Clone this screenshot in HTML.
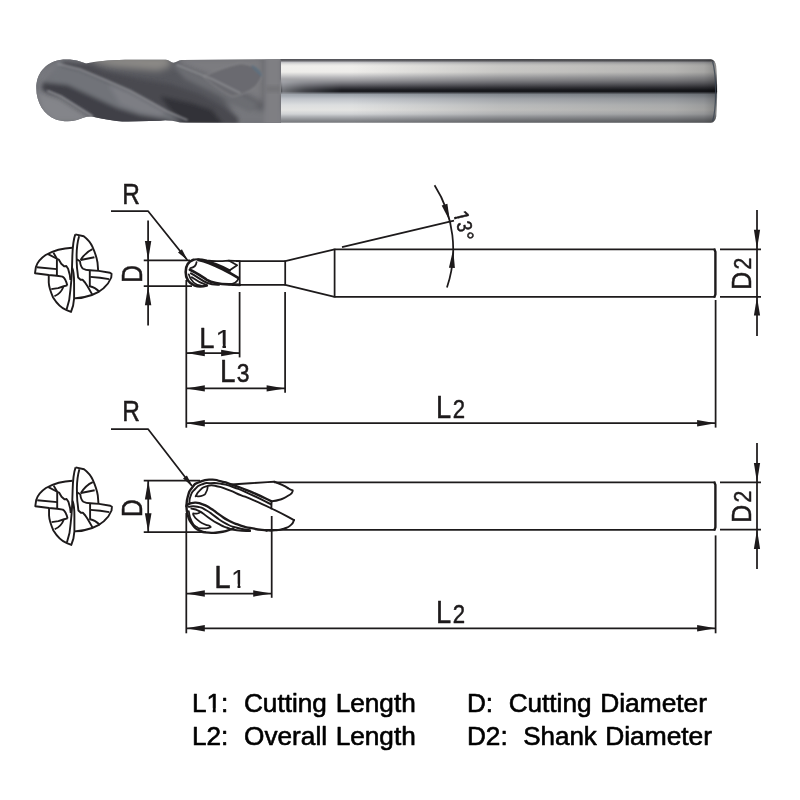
<!DOCTYPE html>
<html lang="en">
<head>
<meta charset="utf-8">
<title>Ball Nose End Mill Dimensions</title>
<style>
html,body{margin:0;padding:0;background:#ffffff;}
body{width:800px;height:800px;overflow:hidden;position:relative;font-family:"Liberation Sans",sans-serif;}
svg{position:absolute;left:0;top:0;display:block;}
</style>
</head>
<body>
<svg width="800" height="800" viewBox="0 0 800 800">
<defs>
<linearGradient id="shankV" gradientUnits="userSpaceOnUse" x1="0" y1="59" x2="0" y2="122.8">
<stop offset="0.0000" stop-color="#5a5a5f"/>
<stop offset="0.0094" stop-color="#55555a"/>
<stop offset="0.0298" stop-color="#6a6a6e"/>
<stop offset="0.0517" stop-color="#c0c0c4"/>
<stop offset="0.0784" stop-color="#e0e0de"/>
<stop offset="0.1097" stop-color="#f0efec"/>
<stop offset="0.2038" stop-color="#eeedea"/>
<stop offset="0.2508" stop-color="#d0d0d0"/>
<stop offset="0.2900" stop-color="#b5b5b8"/>
<stop offset="0.3370" stop-color="#98989c"/>
<stop offset="0.3762" stop-color="#7a7a80"/>
<stop offset="0.4154" stop-color="#58585e"/>
<stop offset="0.4483" stop-color="#3a3a40"/>
<stop offset="0.4859" stop-color="#1c1d22"/>
<stop offset="0.5094" stop-color="#1c1d22"/>
<stop offset="0.5298" stop-color="#50535a"/>
<stop offset="0.5549" stop-color="#9aa0a8"/>
<stop offset="0.6254" stop-color="#c0c4ca"/>
<stop offset="0.7210" stop-color="#dcdedf"/>
<stop offset="0.7994" stop-color="#e4e4e2"/>
<stop offset="0.8621" stop-color="#d0d2d4"/>
<stop offset="0.9013" stop-color="#b0b2b6"/>
<stop offset="0.9404" stop-color="#94969a"/>
<stop offset="0.9718" stop-color="#808286"/>
<stop offset="1.0000" stop-color="#77797d"/>
</linearGradient>
<linearGradient id="shankH" gradientUnits="userSpaceOnUse" x1="281" y1="0" x2="717" y2="0">
<stop offset="0" stop-color="#000" stop-opacity="0"/>
<stop offset="0.16" stop-color="#000" stop-opacity="0"/>
<stop offset="0.5" stop-color="#000" stop-opacity="0.16"/>
<stop offset="0.9" stop-color="#000" stop-opacity="0.24"/>
<stop offset="0.97" stop-color="#000" stop-opacity="0.3"/>
<stop offset="1" stop-color="#000" stop-opacity="0.42"/>
</linearGradient>
<linearGradient id="headV" x1="0" y1="0" x2="0" y2="1">
<stop offset="0" stop-color="#8b8c90"/>
<stop offset="0.15" stop-color="#77787d"/>
<stop offset="0.5" stop-color="#5d5e64"/>
<stop offset="0.85" stop-color="#6d6e73"/>
<stop offset="1" stop-color="#85868a"/>
</linearGradient>
<linearGradient id="fadeL" x1="0" y1="0" x2="1" y2="0">
<stop offset="0" stop-color="#b4b7bc" stop-opacity="0.6"/>
<stop offset="0.4" stop-color="#a4a7ac" stop-opacity="0.3"/>
<stop offset="1" stop-color="#a0a3a8" stop-opacity="0"/>
</linearGradient>
<filter id="b1" x="-20%" y="-20%" width="140%" height="140%"><feGaussianBlur stdDeviation="2.2"/></filter>
<filter id="b2" x="-20%" y="-20%" width="140%" height="140%"><feGaussianBlur stdDeviation="3.5"/></filter>
<filter id="b05" x="-5%" y="-5%" width="110%" height="110%"><feGaussianBlur stdDeviation="0.9"/></filter>
<clipPath id="headClip"><path d="M36.3,88 C36.3,74 45,62.5 60,60 C66,59 74,59.5 80,61.5 L86,63.5 C96,61.5 108,60.3 125,59.8 L166,59.8 C169,60 171,62.6 173.5,62.8 C176,62.6 178,60.4 182,60 L281,59.2 L281,122.8 L180,122.4 C172,120.5 165,119.5 160,120.8 L128,121.6 C112,121.5 100,118 92,116.5 C86,116 82,118.5 76,120.3 C70,121.8 62,121.5 56,119.5 C44,115 36.3,103 36.3,88 Z"/></clipPath>
</defs>
<g id="photo">
<path d="M280,59.0 L711,59.2 C714,59.8 715.6,62.5 716.2,66 C717.4,80 717.4,102 716.2,116.5 C715.6,120 714,122.4 711,122.8 L280,122.8 Z" fill="url(#shankV)"/>
<path d="M280,59.0 L711,59.2 C714,59.8 715.6,62.5 716.2,66 C717.4,80 717.4,102 716.2,116.5 C715.6,120 714,122.4 711,122.8 L280,122.8 Z" fill="url(#shankH)"/>
<path d="M712.6,61.5 C716.6,75 716.6,108 712.6,121.2" fill="none" stroke="#3a4450" stroke-width="1.2" opacity="0.8"/>
<g clip-path="url(#headClip)">
<rect x="30" y="55" width="255" height="72" fill="#56575d"/>
<g filter="url(#b2)">
<path d="M34,70 L60,56 L88,60 L78,74 L50,80 L40,100 L34,100 Z" fill="#77787e"/>
<path d="M36,92 L45,92 L61,97 L80,109 L94,117 L80,124 L52,124 L38,110 Z" fill="#84858a"/>
<path d="M90,56 L170,56 L170,62 L172,66 L158,71 L135,69 L112,67 L96,63 Z" fill="#8b8986"/>
<path d="M178,56 L264,56 L264,104 L244,94 L212,78 L178,65 Z" fill="#7c7c80"/>
<path d="M225,96 L262,110 L283,110 L283,126 L236,126 Z" fill="#76777c"/>
</g>
<g filter="url(#b1)">
<path d="M58,64 L80,69.5 L105,80 L130,91 L150,102 L166,111 L187,120 L165,119.5 L140,115 L117,108 L92,96.5 L67,85 L46,82 Z" fill="#717379"/>
<path d="M108,84 L130,92 L150,102.5 L166,111.5 L160,116 L140,112 L120,104 Z" fill="#7d7e84"/>
<path d="M43,82.5 L67.5,85 L92.5,96.5 L117.5,108 L140,115 L168,119.5 L170,125 L100,125 L92,116 L80,108.5 L61,96.5 L42,90 Z" fill="#3f4046"/>
<path d="M64,61 L86,64 L104,71 L140,79 L170,84 L200,94 L222,106 L238,118 L238,125 L188,125 L166,111.5 L150,102.5 L130,91.5 L105,80.5 L80,70 L60,65 Z" fill="#494a50"/>
<path d="M160,96 L192,103 L212,110 L224,125 L186,125 L170,110 Z" fill="#323338"/>
<path d="M171,63.5 L177,65 L212,79 L240,93 L258,104 L250,112 L236,105 L210,91 L185,79 Z" fill="#6c6d72"/>
</g>
<g filter="url(#b05)">
<path d="M203,76.5 C215,71 228,66 240,63.5 C250,64 258,68 262.5,75 C260,82 256,87 250,90.5 C244,94 238,96 232,96.5 C222,92 212,84 203,76.5 Z" fill="#6b6b6f" stroke="#88888c" stroke-width="0.9"/>
<path d="M252,65 C257.5,67.5 261.5,71.5 263,77 C259,75.5 255,71.5 251,66 Z" fill="#5f6f7e"/>
</g>
<g fill="none" filter="url(#b05)" stroke-linecap="round">
<path d="M58,64 L80,69.5 L105,80 L130,91 L150,102 L166,111 L187,120" stroke="#8f9095" stroke-width="1.6"/>
<path d="M177,65 L212,79 L240,93" stroke="#8e8f93" stroke-width="1.4"/>
<path d="M48,91 L61,96.5 L80,108.5 L92,116" stroke="#94959a" stroke-width="1.8"/>
</g>
<rect x="264" y="55" width="18" height="72" fill="#7f7f83" filter="url(#b1)"/>
<rect x="266" y="86" width="16" height="6" fill="#727276" filter="url(#b1)"/>
</g>
<rect x="281" y="80" width="60" height="14.5" fill="url(#fadeL)" filter="url(#b05)"/>
</g>
<g fill="none" stroke="#1d1a1b" stroke-width="1.75" stroke-linecap="butt" stroke-linejoin="round">
<line x1="143.75" y1="260.4" x2="190" y2="260.4" stroke-width="1.75" />
<line x1="143.75" y1="286.2" x2="192" y2="286.2" stroke-width="1.75" />
<line x1="148.1" y1="220.6" x2="148.1" y2="325.6" stroke-width="1.75" />
<polygon points="148.10,260.40 144.90,240.90 151.30,240.90" fill="#1d1a1b" stroke="none"/>
<polygon points="148.10,286.20 151.30,305.20 144.90,305.20" fill="#1d1a1b" stroke="none"/>
<line x1="236" y1="261.1" x2="285.2" y2="261.1" stroke-width="1.75" />
<line x1="232" y1="284.9" x2="285.2" y2="284.9" stroke-width="1.75" />
<line x1="239.7" y1="261.1" x2="239.7" y2="284.9" stroke-width="1.75" />
<line x1="285.2" y1="260.40000000000003" x2="285.2" y2="285.59999999999997" stroke-width="1.75" />
<line x1="285.2" y1="261.1" x2="334.6" y2="249.3" stroke-width="1.75" />
<line x1="285.2" y1="284.9" x2="334.6" y2="296.9" stroke-width="1.75" />
<line x1="334.6" y1="248.60000000000002" x2="334.6" y2="297.59999999999997" stroke-width="1.75" />
<line x1="334.6" y1="249.3" x2="715" y2="249.3" stroke-width="1.75" />
<line x1="334.6" y1="296.9" x2="715" y2="296.9" stroke-width="1.75" />
<path d="M714.2,248.60000000000002 L715.4,251.8 L715.4,294.4 L714.2,297.59999999999997" stroke-width="2.4"/>
<line x1="720" y1="249.3" x2="761" y2="249.3" stroke-width="1.75" />
<line x1="720" y1="296.9" x2="761" y2="296.9" stroke-width="1.75" />
<line x1="757" y1="210" x2="757" y2="336" stroke-width="1.75" />
<polygon points="757.00,249.30 753.90,229.80 760.10,229.80" fill="#1d1a1b" stroke="none"/>
<polygon points="757.00,296.90 760.10,315.40 753.90,315.40" fill="#1d1a1b" stroke="none"/>
<line x1="342" y1="247.1" x2="454" y2="220.6" stroke-width="1.75" />
<path d="M434.57,185.26 A119.7,119.7 0 0 1 446.95,287.58"/>
<polygon points="449.84,221.25 441.69,205.48 447.41,203.67" fill="#1d1a1b" stroke="none"/>
<polygon points="453.20,249.40 454.90,268.06 448.92,267.65" fill="#1d1a1b" stroke="none"/>
<line x1="186.3" y1="280" x2="186.3" y2="427.7" stroke-width="1.75" />
<line x1="239.6" y1="292" x2="239.6" y2="357.4" stroke-width="1.75" />
<line x1="285.1" y1="292" x2="285.1" y2="392.8" stroke-width="1.75" />
<line x1="715.6" y1="300" x2="715.6" y2="427.6" stroke-width="1.75" />
<line x1="186.3" y1="353" x2="239.6" y2="353" stroke-width="1.75" />
<polygon points="186.30,353.00 204.80,349.80 204.80,356.20" fill="#1d1a1b" stroke="none"/>
<polygon points="239.60,353.00 221.10,356.20 221.10,349.80" fill="#1d1a1b" stroke="none"/>
<line x1="186.3" y1="388.4" x2="285.1" y2="388.4" stroke-width="1.75" />
<polygon points="186.30,388.40 204.80,385.20 204.80,391.60" fill="#1d1a1b" stroke="none"/>
<polygon points="285.10,388.40 266.60,391.60 266.60,385.20" fill="#1d1a1b" stroke="none"/>
<line x1="186.3" y1="423.2" x2="715.6" y2="423.2" stroke-width="1.75" />
<polygon points="186.30,423.20 204.80,420.00 204.80,426.40" fill="#1d1a1b" stroke="none"/>
<polygon points="715.60,423.20 697.10,426.40 697.10,420.00" fill="#1d1a1b" stroke="none"/>
<path d="M111,211 L148,211 L187.3,260"/>
<polygon points="187.80,260.60 178.03,252.41 181.93,249.28" fill="#1d1a1b" stroke="none"/>
<line x1="143.75" y1="480.5" x2="200" y2="480.5" stroke-width="1.75" />
<line x1="143.75" y1="532.2" x2="206" y2="532.2" stroke-width="1.75" />
<line x1="148.2" y1="481" x2="148.2" y2="532" stroke-width="1.75" />
<polygon points="148.20,480.60 151.50,499.60 144.90,499.60" fill="#1d1a1b" stroke="none"/>
<polygon points="148.20,532.20 144.90,513.20 151.50,513.20" fill="#1d1a1b" stroke="none"/>
<line x1="274" y1="482.4" x2="715" y2="482.4" stroke-width="1.75" />
<line x1="264" y1="529.8" x2="715" y2="529.8" stroke-width="1.75" />
<path d="M714.2,481.7 L715.4,484.9 L715.4,527.3 L714.2,530.5" stroke-width="2.4"/>
<line x1="720" y1="482.4" x2="761" y2="482.4" stroke-width="1.75" />
<line x1="720" y1="529.5" x2="761" y2="529.5" stroke-width="1.75" />
<line x1="757" y1="443" x2="757" y2="569" stroke-width="1.75" />
<polygon points="757.00,482.40 753.90,462.90 760.10,462.90" fill="#1d1a1b" stroke="none"/>
<polygon points="757.00,529.50 760.10,549.00 753.90,549.00" fill="#1d1a1b" stroke="none"/>
<line x1="186.3" y1="513" x2="186.3" y2="633.3" stroke-width="1.75" />
<line x1="271.7" y1="516" x2="271.7" y2="597.8" stroke-width="1.75" />
<line x1="715.6" y1="535.4" x2="715.6" y2="633.3" stroke-width="1.75" />
<line x1="186.3" y1="593.5" x2="271.7" y2="593.5" stroke-width="1.75" />
<polygon points="186.30,593.50 204.80,590.30 204.80,596.70" fill="#1d1a1b" stroke="none"/>
<polygon points="271.70,593.50 253.20,596.70 253.20,590.30" fill="#1d1a1b" stroke="none"/>
<line x1="186.3" y1="628.3" x2="715.6" y2="628.3" stroke-width="1.75" />
<polygon points="186.30,628.30 204.80,625.10 204.80,631.50" fill="#1d1a1b" stroke="none"/>
<polygon points="715.60,628.30 697.10,631.50 697.10,625.10" fill="#1d1a1b" stroke="none"/>
<path d="M111,429 L148,429 L192,486"/>
<polygon points="192.60,486.80 182.98,478.43 186.94,475.38" fill="#1d1a1b" stroke="none"/>
<g transform="translate(180,250) scale(0.08125)" stroke-width="24" stroke-linecap="round">
<path d="M165,120 C105,140 70,200 70,270 C70,340 108,408 180,438 C230,455 280,450 330,437" stroke-width="32"/>
<path d="M150,126 C200,105 260,112 330,128 C400,142 500,140 600,130 L735,136" stroke-width="22"/>
<path d="M108,300 C130,378 190,428 260,440" stroke-width="22"/>
<path d="M225,122 C330,145 430,190 520,235 C600,275 670,315 722,347" stroke-width="34"/>
<path d="M320,138 C420,158 520,203 612,253" stroke-width="30"/>
<path d="M600,130 L703,187 L612,250" stroke-width="22"/>
<path d="M722,347 C705,395 655,420 600,424" stroke-width="22"/>
<path d="M122,243 C200,275 270,330 330,368 C400,408 480,420 600,424 L735,430" stroke-width="34"/>
<path d="M135,288 C200,320 260,370 330,403 C380,424 430,430 480,428" stroke-width="26"/>
<path d="M145,335 C200,375 260,410 330,432" stroke-width="22"/>
<path d="M128,222 C170,218 198,195 204,150" stroke-width="22"/>
</g>
<g transform="translate(180,470) scale(0.0875)" stroke-width="22" stroke-linecap="round">
<path d="M74,415 C79.3,376.7 68.0,371.7 90,300 C112.0,228.3 96.7,253.3 140,200 C183.3,146.7 150.0,170.0 220,140 C290.0,110.0 266.7,113.3 350,110 C433.3,106.7 386.7,110.0 470,130 C553.3,150.0 490.0,131.7 600,170 C710.0,208.3 651.3,182.3 800,245 C948.7,307.7 964.0,320.3 1046,358" stroke-width="27"/>
<path d="M108,385 C112.0,356.7 99.3,355.0 120,300 C140.7,245.0 126.7,265.0 170,220 C213.3,175.0 190.0,188.3 250,165 C310.0,141.7 273.3,151.7 350,150 C426.7,148.3 390.0,143.3 480,160 C570.0,176.7 513.3,161.7 620,200 C726.7,238.3 659.7,211.0 800,275 C940.3,339.0 960.7,353.0 1041,392"/>
<path d="M180,300 C196.7,276.7 186.7,268.3 230,230 C273.3,191.7 246.7,200.0 310,185 C373.3,170.0 336.7,170.0 420,185 C503.3,200.0 466.7,195.0 560,230 C653.3,265.0 620.0,257.3 700,290 C780.0,322.7 684.7,278.0 800,328 C915.3,378.0 878.3,358.7 1046,440 C1213.7,521.3 1217.3,528.0 1303,572"/>
<path d="M180,300 C206.7,297.3 220.0,308.7 260,292 C300.0,275.3 281.3,282.0 300,250 C318.7,218.0 310.7,214.0 316,196" stroke-width="20"/>
<path d="M575,166 C650.0,161.3 633.0,162.7 800,152 C967.0,141.3 984.0,140.0 1076,134"/>
<path d="M1076,134 C1106.0,146.0 1109.3,143.0 1166,170 C1222.7,197.0 1206.0,189.3 1246,215 C1286.0,240.7 1292.7,218.7 1286,247 C1279.3,275.3 1276.0,269.0 1226,300 C1176.0,331.0 1196.0,320.7 1136,340 C1076.0,359.3 1076.0,352.0 1046,358"/>
<path d="M1046,358 L1044,440"/>
<path d="M1303,572 C1290.7,591.3 1305.0,597.3 1266,630 C1227.0,662.7 1246.0,650.0 1186,670 C1126.0,690.0 1151.3,682.7 1086,690 C1020.7,697.3 1022.0,691.3 990,692"/>
<path d="M76,402 C100.7,393.0 92.0,379.0 150,375 C208.0,371.0 183.3,368.3 250,390 C316.7,411.7 283.3,400.0 350,440 C416.7,480.0 380.0,463.3 450,510 C520.0,556.7 483.3,540.0 560,580 C636.7,620.0 600.0,602.7 680,630 C760.0,657.3 696.7,641.3 800,662 C903.3,682.7 926.7,682.0 990,692" stroke-width="27"/>
<path d="M100,420 C133.3,420.0 133.3,406.7 200,420 C266.7,433.3 233.3,423.3 300,460 C366.7,496.7 326.7,480.0 400,530 C473.3,580.0 436.7,566.7 520,610 C603.3,653.3 556.7,634.0 650,660 C743.3,686.0 750.0,678.7 800,688"/>
<path d="M130,442 C160.0,451.3 156.7,437.3 220,470 C283.3,502.7 250.0,493.3 320,540 C390.0,586.7 356.7,570.0 430,610 C503.3,650.0 466.7,634.0 540,660 C613.3,686.0 563.3,675.3 650,688 C736.7,700.7 750.0,694.7 800,698"/>
<path d="M150,497 C166.7,497.0 171.3,503.0 200,497 C228.7,491.0 224.0,485.0 236,479" stroke-width="20"/>
<path d="M74,415 C79.3,450.0 68.0,451.7 90,520 C112.0,588.3 96.7,563.3 140,620 C183.3,676.7 156.7,658.0 220,690 C283.3,722.0 253.3,709.0 330,716 C406.7,723.0 380.0,719.0 450,711 C520.0,703.0 486.7,706.3 540,692 C593.3,677.7 586.7,676.0 610,668" stroke-width="27"/>
<path d="M100,470 C110.0,506.7 100.0,520.0 130,580 C160.0,640.0 150.0,621.0 190,650 C230.0,679.0 203.3,663.7 250,667 C296.7,670.3 300.0,669.0 330,660 C360.0,651.0 356.7,653.3 340,640 C323.3,626.7 326.7,643.3 280,620 C233.3,596.7 243.3,606.7 200,570 C156.7,533.3 166.7,530.0 150,510" stroke-width="20"/>
</g>
<g stroke-width="1.9">
<path d="M72.2,247.8 C62,248.2 53,251 45.6,255 C40.5,258.5 37,263 35.9,267 L35,273.2 L48.75,275 L56.9,275.8 L62.5,276.6 C65,278 66.2,281 67.3,285.4"/>
<path d="M36.9,267.3 L56.9,269.1"/>
<path d="M56.9,259.2 L56.9,275.8"/>
<path d="M48.1,254.1 L56.9,258.75"/>
<path d="M53.4,252.6 L56.9,258.75 L58.75,259.6 L61.25,263.75 L64.4,266.4 L66.25,266 L68.1,268.75 L69.8,275 L70.4,280"/>
<path d="M75.3,234.4 C73.6,239 72.6,246 72.3,258 L72,268 C71.8,276 71.2,283 70.4,290 L69.2,300 L66.6,309.5"/>
<path d="M79.1,236.2 C77.4,242 76.7,248 76.6,255 L76.7,262 L77,268 L77.5,272 L78.1,277.5 L80.6,279.7 L82.5,279.7 L85,282.5 L87.5,286.25 L92.3,294.6"/>
<path d="M72.2,268 C73.6,271 74.1,276 74.1,283 L74.1,298.4 L73.1,305.6 L71,311.9 L66.6,310.2 C61,308 56.5,303 53.1,297.5 C50.5,291.5 48.9,286 48.75,282.5 L48.75,275"/>
<path d="M75.3,234.4 L83.75,236.25 C88,239.5 90.8,243 92.5,246.9 C95,252.5 96.8,258 97.5,262.5 L98.2,270.8"/>
<path d="M80.6,260 C84,254.5 88,251 92.5,249.1"/>
<path d="M80.6,260 L94.4,257.2"/>
<path d="M76.8,259.4 L80,261.25 C80.4,265.5 81.3,267.5 83.1,268.75 C85.5,270 87.5,270.2 90,270.3 L98.75,270.9 L110,272.8 L111.6,273.75 L111.25,277.5 C109,283 106.5,285.8 103.75,288.1 C100,291.5 96,293.5 91.9,295 C85,297.5 80,298.3 74.1,298.4"/>
<path d="M90.3,276.9 L100,277.8 L109,279.1"/>
<path d="M89.8,270.3 L89.8,286.2 C93.5,286.8 96.8,289 99.6,292"/>
<path d="M51.25,289.1 L58.1,288.1 L63.75,286.25 L67.3,285.4"/>
<path d="M54.4,296.25 C58.5,294.5 61.5,292 63.3,287"/>
</g>
<g stroke-width="1.9" transform="translate(0.3,233)">
<path d="M72.2,247.8 C62,248.2 53,251 45.6,255 C40.5,258.5 37,263 35.9,267 L35,273.2 L48.75,275 L56.9,275.8 L62.5,276.6 C65,278 66.2,281 67.3,285.4"/>
<path d="M36.9,267.3 L56.9,269.1"/>
<path d="M56.9,259.2 L56.9,275.8"/>
<path d="M48.1,254.1 L56.9,258.75"/>
<path d="M53.4,252.6 L56.9,258.75 L58.75,259.6 L61.25,263.75 L64.4,266.4 L66.25,266 L68.1,268.75 L69.8,275 L70.4,280"/>
<path d="M75.3,234.4 C73.6,239 72.6,246 72.3,258 L72,268 C71.8,276 71.2,283 70.4,290 L69.2,300 L66.6,309.5"/>
<path d="M79.1,236.2 C77.4,242 76.7,248 76.6,255 L76.7,262 L77,268 L77.5,272 L78.1,277.5 L80.6,279.7 L82.5,279.7 L85,282.5 L87.5,286.25 L92.3,294.6"/>
<path d="M72.2,268 C73.6,271 74.1,276 74.1,283 L74.1,298.4 L73.1,305.6 L71,311.9 L66.6,310.2 C61,308 56.5,303 53.1,297.5 C50.5,291.5 48.9,286 48.75,282.5 L48.75,275"/>
<path d="M75.3,234.4 L83.75,236.25 C88,239.5 90.8,243 92.5,246.9 C95,252.5 96.8,258 97.5,262.5 L98.2,270.8"/>
<path d="M80.6,260 C84,254.5 88,251 92.5,249.1"/>
<path d="M80.6,260 L94.4,257.2"/>
<path d="M76.8,259.4 L80,261.25 C80.4,265.5 81.3,267.5 83.1,268.75 C85.5,270 87.5,270.2 90,270.3 L98.75,270.9 L110,272.8 L111.6,273.75 L111.25,277.5 C109,283 106.5,285.8 103.75,288.1 C100,291.5 96,293.5 91.9,295 C85,297.5 80,298.3 74.1,298.4"/>
<path d="M90.3,276.9 L100,277.8 L109,279.1"/>
<path d="M89.8,270.3 L89.8,286.2 C93.5,286.8 96.8,289 99.6,292"/>
<path d="M51.25,289.1 L58.1,288.1 L63.75,286.25 L67.3,285.4"/>
<path d="M54.4,296.25 C58.5,294.5 61.5,292 63.3,287"/>
</g>
</g>
<g id="labels" opacity="0.999">
<g><text transform="translate(122.15,204.45) scale(0.804,1)" font-size="30.38" font-family="'Liberation Sans', sans-serif" fill="#1d1a1b" stroke="#1d1a1b" stroke-width="0.5" stroke-linejoin="round">R</text></g>
<g><text transform="translate(122.15,421.45) scale(0.812,1)" font-size="30.09" font-family="'Liberation Sans', sans-serif" fill="#1d1a1b" stroke="#1d1a1b" stroke-width="0.5" stroke-linejoin="round">R</text></g>
<g><text transform="translate(141.95,282.67) rotate(-90) scale(0.827,1)" font-size="29.80" font-family="'Liberation Sans', sans-serif" fill="#1d1a1b" stroke="#1d1a1b" stroke-width="0.5" stroke-linejoin="round">D</text></g>
<g><text transform="translate(142.25,516.96) rotate(-90) scale(0.822,1)" font-size="29.80" font-family="'Liberation Sans', sans-serif" fill="#1d1a1b" stroke="#1d1a1b" stroke-width="0.5" stroke-linejoin="round">D</text></g>
<g><text transform="translate(199.21,347.75) scale(0.922,1)" font-size="29.65" font-family="'Liberation Sans', sans-serif" fill="#1d1a1b" stroke="#1d1a1b" stroke-width="0.5" stroke-linejoin="round">L</text><clipPath id="c1_1"><path d="M-1.28,-20.55 L16.70,-20.55 L16.70,-4.24 L9.25,-4.24 L9.25,0.77 L6.29,0.77 L6.29,-4.24 L-1.28,-4.24 Z"/></clipPath><text transform="translate(215.25,347.93) scale(1.154,1)" font-size="26.31" font-family="'Liberation Sans', sans-serif" fill="#1d1a1b" stroke="#1d1a1b" stroke-width="0.15" stroke-linejoin="round" clip-path="url(#c1_1)">1</text></g>
<g><text transform="translate(219.97,382.05) scale(0.893,1)" font-size="31.11" font-family="'Liberation Sans', sans-serif" fill="#1d1a1b" stroke="#1d1a1b" stroke-width="0.5" stroke-linejoin="round">L</text><text transform="translate(236.78,382.05) scale(0.893,1)" font-size="25.64" font-family="'Liberation Sans', sans-serif" fill="#1d1a1b" stroke="#1d1a1b" stroke-width="0.5" stroke-linejoin="round">3</text></g>
<g><text transform="translate(436.12,417.65) scale(0.885,1)" font-size="30.74" font-family="'Liberation Sans', sans-serif" fill="#1d1a1b" stroke="#1d1a1b" stroke-width="0.5" stroke-linejoin="round">L</text><text transform="translate(452.63,417.65) scale(0.841,1)" font-size="26.35" font-family="'Liberation Sans', sans-serif" fill="#1d1a1b" stroke="#1d1a1b" stroke-width="0.5" stroke-linejoin="round">2</text></g>
<g><text transform="translate(214.33,587.90) scale(0.959,1)" font-size="30.74" font-family="'Liberation Sans', sans-serif" fill="#1d1a1b" stroke="#1d1a1b" stroke-width="0.5" stroke-linejoin="round">L</text><clipPath id="c1_2"><path d="M-1.30,-20.72 L16.84,-20.72 L16.84,-4.27 L9.33,-4.27 L9.33,0.78 L6.35,0.78 L6.35,-4.27 L-1.30,-4.27 Z"/></clipPath><text transform="translate(231.34,588.07) scale(0.975,1)" font-size="26.53" font-family="'Liberation Sans', sans-serif" fill="#1d1a1b" stroke="#1d1a1b" stroke-width="0.15" stroke-linejoin="round" clip-path="url(#c1_2)">1</text></g>
<g><text transform="translate(436.12,622.90) scale(0.875,1)" font-size="31.11" font-family="'Liberation Sans', sans-serif" fill="#1d1a1b" stroke="#1d1a1b" stroke-width="0.5" stroke-linejoin="round">L</text><text transform="translate(452.63,622.90) scale(0.835,1)" font-size="26.57" font-family="'Liberation Sans', sans-serif" fill="#1d1a1b" stroke="#1d1a1b" stroke-width="0.5" stroke-linejoin="round">2</text></g>
<g><text transform="translate(750.75,289.70) rotate(-90) scale(0.900,1)" font-size="27.76" font-family="'Liberation Sans', sans-serif" fill="#1d1a1b" stroke="#1d1a1b" stroke-width="0.5" stroke-linejoin="round">D</text><text transform="translate(750.75,269.52) rotate(-90) scale(0.869,1)" font-size="24.49" font-family="'Liberation Sans', sans-serif" fill="#1d1a1b" stroke="#1d1a1b" stroke-width="0.5" stroke-linejoin="round">2</text></g>
<g><text transform="translate(750.75,522.70) rotate(-90) scale(0.900,1)" font-size="27.76" font-family="'Liberation Sans', sans-serif" fill="#1d1a1b" stroke="#1d1a1b" stroke-width="0.5" stroke-linejoin="round">D</text><text transform="translate(750.75,502.52) rotate(-90) scale(0.869,1)" font-size="24.49" font-family="'Liberation Sans', sans-serif" fill="#1d1a1b" stroke="#1d1a1b" stroke-width="0.5" stroke-linejoin="round">2</text></g>
<clipPath id="c1_3"><path d="M-1.04,-16.64 L13.52,-16.64 L13.52,-3.43 L7.49,-3.43 L7.49,0.62 L5.10,0.62 L5.10,-3.43 L-1.04,-3.43 Z"/></clipPath>
<g transform="translate(453.6,214.6) rotate(76.5)"><text transform="translate(-2.2,0) scale(0.95,1)" font-size="21.3" font-family="'Liberation Sans', sans-serif" fill="#1d1a1b" stroke="#1d1a1b" stroke-width="0.5" stroke-linejoin="round" clip-path="url(#c1_3)">1</text><text transform="translate(9.0,-0.5) scale(0.84,1)" font-size="21.3" font-family="'Liberation Sans', sans-serif" fill="#1d1a1b" stroke="#1d1a1b" stroke-width="0.5" stroke-linejoin="round">3</text><text transform="translate(19.9,0.8) scale(0.95,1)" font-size="22" font-family="'Liberation Sans', sans-serif" fill="#1d1a1b" stroke="#1d1a1b" stroke-width="0.5" stroke-linejoin="round">°</text></g>
</g>
<g id="legend" opacity="0.999">
<clipPath id="lgc"><path clip-rule="evenodd" d="M-2.56,-22.24 L43.47,-22.24 L43.47,7.41 L-2.56,7.41 Z M15.79,-4.08 L20.83,-4.08 L20.83,0.99 L15.79,0.99 Z M23.77,-4.08 L28.61,-4.08 L28.61,0.99 L23.77,0.99 Z"/></clipPath>
<text transform="translate(191.95,712.3)" textLength="36.40" lengthAdjust="spacingAndGlyphs" font-size="25.3" font-family="'Liberation Sans', sans-serif" fill="#000" stroke="#000" stroke-width="0.6" stroke-linejoin="round" clip-path="url(#lgc)">L1:</text>
<text transform="translate(243.97,712.3)" textLength="82.81" lengthAdjust="spacingAndGlyphs" font-size="25.3" font-family="'Liberation Sans', sans-serif" fill="#000" stroke="#000" stroke-width="0.6" stroke-linejoin="round">Cutting</text>
<text transform="translate(335.65,712.3)" textLength="80.15" lengthAdjust="spacingAndGlyphs" font-size="25.3" font-family="'Liberation Sans', sans-serif" fill="#000" stroke="#000" stroke-width="0.6" stroke-linejoin="round">Length</text>
<text transform="translate(191.95,745.2)" textLength="36.40" lengthAdjust="spacingAndGlyphs" font-size="25.3" font-family="'Liberation Sans', sans-serif" fill="#000" stroke="#000" stroke-width="0.6" stroke-linejoin="round">L2:</text>
<text transform="translate(244.06,745.2)" textLength="82.99" lengthAdjust="spacingAndGlyphs" font-size="25.3" font-family="'Liberation Sans', sans-serif" fill="#000" stroke="#000" stroke-width="0.6" stroke-linejoin="round">Overall</text>
<text transform="translate(335.65,745.2)" textLength="80.15" lengthAdjust="spacingAndGlyphs" font-size="25.3" font-family="'Liberation Sans', sans-serif" fill="#000" stroke="#000" stroke-width="0.6" stroke-linejoin="round">Length</text>
<text transform="translate(466.95,712.3)" textLength="26.19" lengthAdjust="spacingAndGlyphs" font-size="25.3" font-family="'Liberation Sans', sans-serif" fill="#000" stroke="#000" stroke-width="0.6" stroke-linejoin="round">D:</text>
<text transform="translate(508.67,712.3)" textLength="82.81" lengthAdjust="spacingAndGlyphs" font-size="25.3" font-family="'Liberation Sans', sans-serif" fill="#000" stroke="#000" stroke-width="0.6" stroke-linejoin="round">Cutting</text>
<text transform="translate(600.14,712.3)" textLength="106.90" lengthAdjust="spacingAndGlyphs" font-size="25.3" font-family="'Liberation Sans', sans-serif" fill="#000" stroke="#000" stroke-width="0.6" stroke-linejoin="round">Diameter</text>
<text transform="translate(466.95,745.2)" textLength="40.75" lengthAdjust="spacingAndGlyphs" font-size="25.3" font-family="'Liberation Sans', sans-serif" fill="#000" stroke="#000" stroke-width="0.6" stroke-linejoin="round">D2:</text>
<text transform="translate(523.22,745.2)" textLength="73.64" lengthAdjust="spacingAndGlyphs" font-size="25.3" font-family="'Liberation Sans', sans-serif" fill="#000" stroke="#000" stroke-width="0.6" stroke-linejoin="round">Shank</text>
<text transform="translate(605.14,745.2)" textLength="106.90" lengthAdjust="spacingAndGlyphs" font-size="25.3" font-family="'Liberation Sans', sans-serif" fill="#000" stroke="#000" stroke-width="0.6" stroke-linejoin="round">Diameter</text>
</g>
</svg>
</body>
</html>
